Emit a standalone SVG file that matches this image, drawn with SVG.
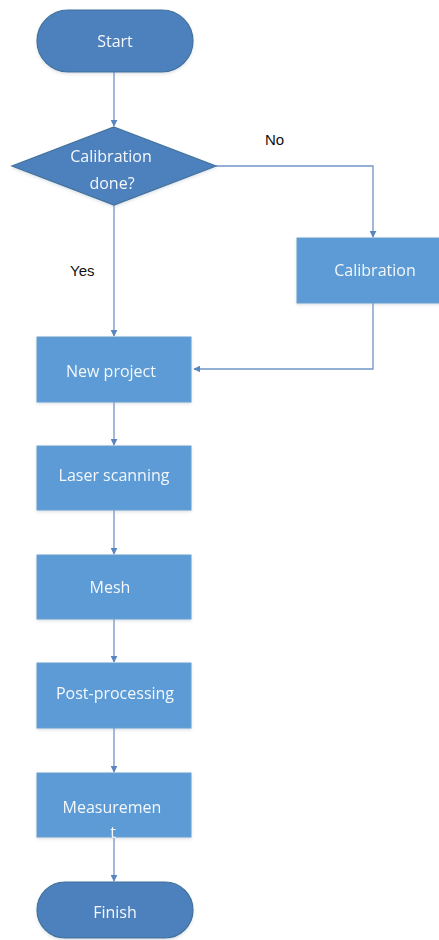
<svg xmlns="http://www.w3.org/2000/svg" width="439" height="940" viewBox="0 0 439 940">
<style>
.term{fill:#4e81bd;stroke:#41719c;stroke-width:1.2}
.proc{fill:#5b9bd5;stroke:#6a9fd0;stroke-width:1}
.lbl{font-family:"Open Sans","Liberation Sans",sans-serif;font-size:16px;fill:#f4f7fb;text-anchor:middle}
.ext{font-family:"Liberation Sans","Open Sans",sans-serif;font-size:15px;fill:#111}
.con{fill:none;stroke:#6f95c6;stroke-width:1.3}
</style>
<defs>
<marker id="ah" viewBox="0 0 10 10" refX="9" refY="5" markerWidth="7" markerHeight="7" markerUnits="userSpaceOnUse" orient="auto">
<path d="M0,0 L10,5 L0,10 z" fill="#5a86bf"/>
</marker>
<filter id="sh" x="-10%" y="-10%" width="120%" height="130%">
<feDropShadow dx="0" dy="1.5" stdDeviation="1.5" flood-color="#9ab" flood-opacity="0.35"/>
</filter>
</defs>
<rect width="439" height="940" fill="#fff"/>
<g id="connectors">
<line class="con" x1="114" y1="72" x2="114" y2="126" marker-end="url(#ah)"/>
<polyline class="con" points="216,166 373,166 373,237" marker-end="url(#ah)"/>
<line class="con" x1="114" y1="205" x2="114" y2="336" marker-end="url(#ah)"/>
<polyline class="con" points="373,303 373,369 194,369" marker-end="url(#ah)"/>
<line class="con" x1="114" y1="402" x2="114" y2="445" marker-end="url(#ah)"/>
<line class="con" x1="114" y1="510" x2="114" y2="554" marker-end="url(#ah)"/>
<line class="con" x1="114" y1="619" x2="114" y2="662" marker-end="url(#ah)"/>
<line class="con" x1="114" y1="728" x2="114" y2="772" marker-end="url(#ah)"/>
<line class="con" x1="114" y1="837" x2="114" y2="881" marker-end="url(#ah)"/>
<text class="ext" x="265" y="145">No</text>
<text class="ext" x="70" y="276">Yes</text>
</g>
<g id="start" filter="url(#sh)">
<rect class="term" x="37" y="10" width="156" height="62" rx="31"/>
<text class="lbl" x="115" y="47">Start</text>
</g>
<g id="decision" filter="url(#sh)">
<polygon class="term" points="114,127 216,166 114,205 12,166"/>
<text class="lbl" x="111" y="162">Calibration</text>
<text class="lbl" x="112" y="189">done?</text>
</g>
<g id="calibration" filter="url(#sh)">
<rect class="proc" x="297" y="238" width="152" height="65"/>
<text class="lbl" x="375" y="276">Calibration</text>
</g>
<g id="new-project" filter="url(#sh)">
<rect class="proc" x="37" y="337" width="154" height="65"/>
<text class="lbl" x="111" y="377">New project</text>
</g>
<g id="laser-scanning" filter="url(#sh)">
<rect class="proc" x="37" y="446" width="154" height="64"/>
<text class="lbl" x="114" y="481">Laser scanning</text>
</g>
<g id="mesh" filter="url(#sh)">
<rect class="proc" x="37" y="555" width="154" height="64"/>
<text class="lbl" x="110" y="593">Mesh</text>
</g>
<g id="post-processing" filter="url(#sh)">
<rect class="proc" x="37" y="663" width="154" height="65"/>
<text class="lbl" x="115" y="699">Post-processing</text>
</g>
<g id="measurement" filter="url(#sh)">
<rect class="proc" x="37" y="773" width="154" height="64"/>
<text class="lbl" x="112" y="813">Measuremen</text>
<text class="lbl" x="113" y="838">t</text>
</g>
<g id="finish" filter="url(#sh)">
<rect class="term" x="37" y="882" width="156" height="56" rx="28"/>
<text class="lbl" x="115" y="918">Finish</text>
</g>
</svg>
